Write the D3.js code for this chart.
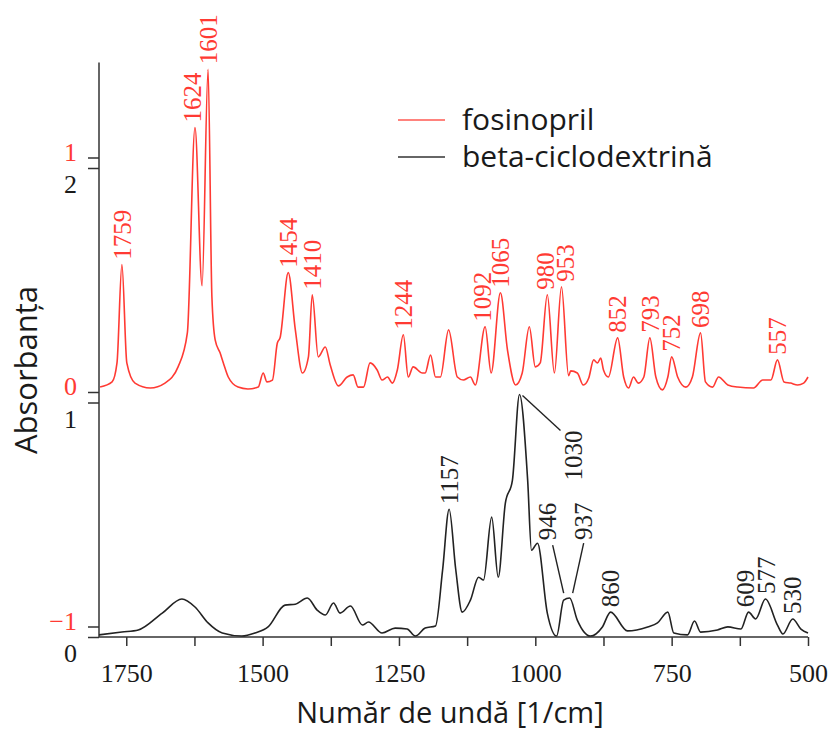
<!DOCTYPE html>
<html lang="ro">
<head>
<meta charset="UTF-8">
<title>Spectre IR</title>
<script src="https://d3js.org/d3.v7.min.js"></script>
<style>
    body { margin: 0; background: #fff; }
    svg { display: block; }
    .tick-lbl { font-family: "Liberation Serif", serif; font-size: 26px; }
    .peak { font-family: "Liberation Serif", serif; font-size: 25px; }
    .title, .legend { font-family: "Open Sans", sans-serif; fill: #1a1a1a; }
</style>
</head>
<body>
<svg width="830" height="732"></svg>
<script>
    // fosinopril spectrum (wavenumber, absorbance)
    const wnRed = [1798,1776,1767,1758,1749,1734,1706,1679,1655,1638,
        1624,1611,1600,1593,1587,1578,1572,1563,1545,1527,
        1508,1499,1492,1482,1473,1468,1453,1440,1427,1416,
        1409,1398,1385,1376,1361,1345,1334,1325,1315,1303,
        1290,1281,1271,1262,1253,1242,1233,1224,1207,1202,
        1192,1183,1174,1159,1143,1132,1119,1110,1092,1081,
        1064,1051,1036,1024,1011,1000,991,978,965,952,
        939,935,923,912,902,893,886,880,875,866,
        849,838,829,820,811,801,790,779,767,757,
        750,739,724,712,697,688,675,664,647,629,
        600,583,568,556,544,532,519,508,500];
    const absRed = [0.021,0.043,0.124,0.543,0.124,0.038,0.017,0.038,0.107,0.252,
        1.128,0.453,1.376,0.406,0.222,0.167,0.124,0.064,0.021,0.013,
        0.021,0.081,0.043,0.051,0.209,0.231,0.509,0.265,0.081,0.150,
        0.415,0.150,0.192,0.115,0.026,0.064,0.073,0.021,0.021,0.124,
        0.094,0.051,0.064,0.038,0.094,0.244,0.064,0.107,0.081,0.081,
        0.158,0.064,0.064,0.265,0.064,0.051,0.064,0.030,0.278,0.081,
        0.423,0.179,0.030,0.081,0.278,0.107,0.124,0.415,0.081,0.449,
        0.070,0.090,0.081,0.030,0.060,0.137,0.124,0.145,0.094,0.064,
        0.231,0.064,0.017,0.064,0.038,0.064,0.231,0.064,0.009,0.064,
        0.150,0.064,0.021,0.064,0.252,0.043,0.021,0.064,0.030,0.021,
        0.017,0.051,0.051,0.137,0.043,0.038,0.030,0.038,0.064];

    // beta-ciclodextrina spectrum
    const wnBlack = [1800,1758,1728,1684,1648,1624,1600,1574,1538,1514,
        1490,1459,1440,1418,1400,1385,1370,1358,1339,1317,
        1306,1281,1257,1235,1220,1202,1183,1170,1158,1146,1134,
        1119,1104,1095,1080,1068,1055,1042,1029,1014,1007,
        996,978,961,948,937,923,899,877,862,831,
        794,776,757,746,721,708,697,666,647,623,
        609,596,578,556,546,528,513,500];
    const absBlack = [0.009,0.021,0.030,0.102,0.162,0.128,0.060,0.017,0.004,0.017,
        0.043,0.136,0.140,0.166,0.115,0.094,0.145,0.102,0.132,0.051,
        0.064,0.017,0.038,0.034,0.004,0.038,0.047,0.285,0.545,0.290,0.106,
        0.157,0.255,0.243,0.511,0.255,0.570,0.668,1.034,0.668,0.370,
        0.400,0.102,0.004,0.157,0.166,0.072,0.004,0.043,0.106,0.026,
        0.043,0.060,0.106,0.017,0.009,0.068,0.021,0.030,0.043,0.034,
        0.106,0.077,0.162,0.051,0.013,0.077,0.034,0.017];

    const redPeaks = [1759,1624,1601,1454,1410,1244,1092,1065,980,953,852,793,752,698,557];
    const blackPeaks = [1157,860,609,577,530];
    const blackLeaderPeaks = [1030,946,937];

    const xTicks = [1750,1625,1500,1375,1250,1125,1000,875,750,625,500];
    const xLabelTicks = [1750,1500,1250,1000,750,500];
    const redTicks = [-1,0,1];
    const blackTicks = [0,1,2];

    const seriesNames = ["fosinopril", "beta-ciclodextrină"];

    const RED = "#ff3a33", DARK = "#222";

    const svg = d3.select("svg");
    const x = d3.scaleLinear().domain([1800, 500]).range([99, 808]);
    const yRed = d3.scaleLinear().domain([0, 1]).range([392, 157.5]);
    const yBlack = d3.scaleLinear().domain([0, 1]).range([637, 402.5]);
    const fmt = d3.format("d");

    const red = wnRed.map((w, i) => ({ wn: w, a: absRed[i] }));
    const black = wnBlack.map((w, i) => ({ wn: w, a: absBlack[i] }));

    // axes
    const xAxis = svg.append("g").attr("transform", "translate(0,637)")
        .call(d3.axisBottom(x).tickValues(xTicks).tickSize(9)
            .tickFormat(d => xLabelTicks.includes(d) ? d : ""));
    xAxis.select(".domain").remove();
    xAxis.selectAll("line").attr("stroke", "#333").attr("stroke-width", 1.5);
    xAxis.selectAll("text").attr("class", "tick-lbl").attr("fill", "#1a1a1a").attr("y", 27).attr("dy", "0.71em");

    svg.append("line").attr("x1", 99).attr("x2", 808).attr("y1", 637).attr("y2", 637)
        .attr("stroke", "#333").attr("stroke-width", 1.5);
    svg.append("line").attr("x1", 99).attr("x2", 99).attr("y1", yBlack(2.45)).attr("y2", 637)
        .attr("stroke", "#333").attr("stroke-width", 1.5);

    const ayR = svg.append("g").attr("transform", "translate(99,0)")
        .call(d3.axisLeft(yRed).tickValues(redTicks).tickSize(11).tickFormat(fmt));
    ayR.select(".domain").remove();
    ayR.selectAll("line").attr("stroke", "#333").attr("stroke-width", 1.5);
    ayR.selectAll("text").attr("class", "tick-lbl").attr("fill", RED).attr("x", -22).attr("dy", "0.1em");

    const ayB = svg.append("g").attr("transform", "translate(99,0)")
        .call(d3.axisLeft(yBlack).tickValues(blackTicks).tickSize(11).tickFormat(fmt));
    ayB.select(".domain").remove();
    ayB.selectAll("line").attr("stroke", "#333").attr("stroke-width", 1.5);
    ayB.selectAll("text").attr("class", "tick-lbl").attr("fill", "#1a1a1a").attr("x", -22).attr("dy", "0.95em");

    // curves
    const lineR = d3.line().x(d => x(d.wn)).y(d => yRed(d.a)).curve(d3.curveMonotoneX);
    const lineB = d3.line().x(d => x(d.wn)).y(d => yBlack(d.a)).curve(d3.curveMonotoneX);
    svg.append("path").datum(black).attr("d", lineB).attr("fill", "none")
        .attr("stroke", DARK).attr("stroke-width", 1.6);
    svg.append("path").datum(red).attr("d", lineR).attr("fill", "none")
        .attr("stroke", RED).attr("stroke-width", 1.6);

    // find the local maximum closest to a label
    function peakOf(data, wn) {
        const near = data.filter(d => Math.abs(d.wn - wn) <= 8);
        return near.reduce((m, d) => d.a > m.a ? d : m, near[0]);
    }

    function vlabel(px, py, txt, color) {
        svg.append("text").attr("class", "peak")
            .attr("transform", `translate(${px},${py}) rotate(-90)`)
            .attr("dy", "0.35em").attr("fill", color).text(txt);
    }

    // small sideways nudges so crowded labels don't collide
    const nudge = { 1624: -3, 1092: -3, 980: -2, 953: 4, 609: -3, 577: 1 };

    redPeaks.forEach(p => {
        const d = peakOf(red, p);
        vlabel(x(d.wn) + (nudge[p] || 0), yRed(d.a) - 5, p, RED);
    });
    blackPeaks.forEach(p => {
        const d = peakOf(black, p);
        vlabel(x(d.wn) + (nudge[p] || 0), yBlack(d.a) - 5, p, DARK);
    });

    // labels with leader lines
    const leaders = {
        1030: { l: [3, 1, 41, 36], t: [54, 86] },
        946: { l: [0, -7, -11, -55], t: [-16, -60] },
        937: { l: [3, -5, 14, -55], t: [14, -58] }
    };
    blackLeaderPeaks.forEach(p => {
        const d = peakOf(black, p);
        const px = x(d.wn), py = yBlack(d.a), o = leaders[p];
        svg.append("line").attr("x1", px + o.l[0]).attr("y1", py + o.l[1])
            .attr("x2", px + o.l[2]).attr("y2", py + o.l[3])
            .attr("stroke", DARK).attr("stroke-width", 1.4);
        vlabel(px + o.t[0], py + o.t[1], p, DARK);
    });

    // legend
    const leg = svg.append("g");
    ["#ff5a52", "#333"].forEach((c, i) => {
        leg.append("line").attr("x1", 398).attr("x2", 445)
            .attr("y1", 120 + i * 37).attr("y2", 120 + i * 37)
            .attr("stroke", c).attr("stroke-width", 1.6);
        leg.append("text").attr("class", "legend").attr("x", 462).attr("y", 120 + i * 37)
            .attr("dy", "0.32em").attr("font-size", 30).text(seriesNames[i]);
    });

    // titles
    svg.append("text").attr("class", "title").attr("x", 450).attr("y", 723)
        .attr("text-anchor", "middle").attr("font-size", 29).text("Număr de undă [1/cm]");
    svg.append("text").attr("class", "title").attr("transform", "translate(37,370) rotate(-90)")
        .attr("text-anchor", "middle").attr("font-size", 31).text("Absorbanța");
</script>
</body>
</html>
